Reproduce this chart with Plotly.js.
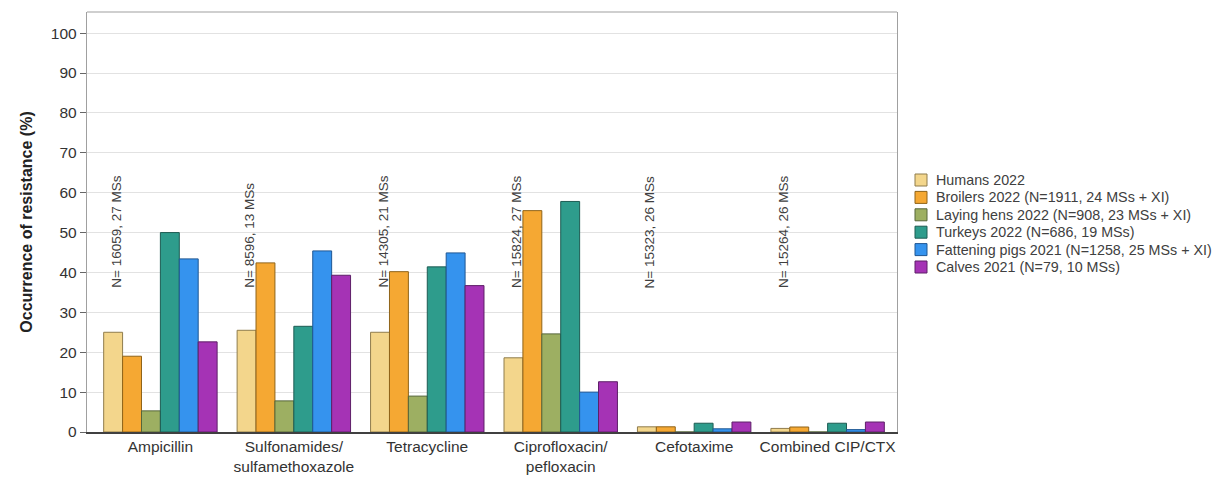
<!DOCTYPE html>
<html>
<head>
<meta charset="utf-8">
<script src="https://cdn.plot.ly/plotly-3.0.1.min.js"></script>
<style>html,body{margin:0;padding:0;background:#fff;}#chart{width:1217px;height:477px;}</style>
</head>
<body>
<div id="chart"></div>
<script>
var categories = ["Ampicillin", "Sulfonamides/<br>sulfamethoxazole", "Tetracycline", "Ciprofloxacin/<br>pefloxacin", "Cefotaxime", "Combined CIP/CTX"];
var sampleNotes = ["N= 16059, 27 MSs", "N= 8596, 13 MSs", "N= 14305, 21 MSs", "N= 15824, 27 MSs", "N= 15323, 26 MSs", "N= 15264, 26 MSs"];
var seriesNames = ["Humans 2022", "Broilers 2022 (N=1911, 24 MSs + XI)", "Laying hens 2022 (N=908, 23 MSs + XI)", "Turkeys 2022 (N=686, 19 MSs)", "Fattening pigs 2021 (N=1258, 25 MSs + XI)", "Calves 2021 (N=79, 10 MSs)"];
var humans   = [25.0, 25.5, 25.0, 18.6, 1.3, 0.9];
var broilers = [19.0, 42.4, 40.2, 55.5, 1.3, 1.25];
var layers   = [5.3, 7.8, 9.0, 24.6, 0, 0];
var turkeys  = [50.0, 26.5, 41.4, 57.8, 2.2, 2.2];
var pigs     = [43.4, 45.4, 44.9, 10.0, 0.8, 0.6];
var calves   = [22.6, 39.3, 36.7, 12.6, 2.5, 2.5];

var seriesValues = [humans, broilers, layers, turkeys, pigs, calves];
var fillColors = ["#F3D68C", "#F5A833", "#9DAF62", "#2E9C8C", "#3593EE", "#A533B5"];
var edgeColors = ["#8f7c4c", "#8f6318", "#56663a", "#1d5c53", "#1f5793", "#5e1f68"];

var FONT = "Liberation Sans, Arial, sans-serif";
var xs = categories.map(function(c, i){ return i; });

var traces = seriesValues.map(function(vals, k){
  return {
    type: "bar",
    x: xs,
    y: vals,
    name: seriesNames[k],
    showlegend: false,
    marker: {color: fillColors[k], line: {color: edgeColors[k], width: 1}},
    hoverinfo: "y"
  };
});

var annotations = sampleNotes.map(function(t, i){
  return {
    x: i - 0.335, y: 35.6, xref: "x", yref: "y",
    text: t, showarrow: false, textangle: -90,
    xanchor: "center", yanchor: "bottom",
    font: {family: FONT, size: 13.5, color: "#404040"}
  };
});

// custom legend (swatch + label) placed to the right of the plot
var plotLeft = 87, plotRight = 897, plotTop = 12, plotBottom = 432;
var pw = plotRight - plotLeft, ph = plotBottom - plotTop;
function px2x(p){ return (p - plotLeft) / pw; }
function py2y(p){ return (plotBottom - p) / ph; }
var shapes = [];
var legTop = 180, legStep = 17.4;
seriesNames.forEach(function(n, k){
  var cy = legTop + k * legStep;
  shapes.push({type: "rect", xref: "paper", yref: "paper",
    x0: px2x(915), x1: px2x(927), y0: py2y(cy + 6), y1: py2y(cy - 6),
    fillcolor: fillColors[k], line: {color: edgeColors[k], width: 1}});
  annotations.push({xref: "paper", yref: "paper", x: px2x(934), y: py2y(cy),
    xanchor: "left", yanchor: "middle", text: n, showarrow: false,
    font: {family: FONT, size: 14.3, color: "#404040"}});
});
// top frame line
shapes.push({type: "line", xref: "paper", yref: "paper", x0: 0, x1: 1, y0: 1, y1: 1,
  line: {color: "#a0a0a0", width: 1.2}});

var layout = {
  width: 1217, height: 477,
  margin: {l: plotLeft, r: 1217 - plotRight, t: plotTop, b: 477 - plotBottom},
  paper_bgcolor: "#ffffff", plot_bgcolor: "#ffffff",
  barmode: "group", bargap: 0.15, bargroupgap: 0,
  showlegend: false,
  font: {family: FONT, color: "#333333"},
  xaxis: {
    tickmode: "array", tickvals: xs, ticktext: categories,
    range: [-0.55, 5.52], showgrid: false, zeroline: false,
    showline: true, linecolor: "#404040", linewidth: 1.5,
    ticks: "", tickfont: {family: FONT, size: 15.5, color: "#333333"}
  },
  yaxis: {
    range: [0, 105.3], tickvals: [0,10,20,30,40,50,60,70,80,90,100],
    showgrid: true, gridcolor: "#e2e2e2", gridwidth: 1,
    zeroline: false, showline: true, linecolor: "#a0a0a0", linewidth: 1.2,
    mirror: true,
    ticks: "outside", ticklen: 6, tickcolor: "#666666",
    tickfont: {family: FONT, size: 15.5, color: "#333333"},
    title: {text: "<b>Occurrence of resistance (%)</b>", standoff: 14,
      font: {family: FONT, size: 16, color: "#222222"}}
  },
  annotations: annotations,
  shapes: shapes
};

Plotly.newPlot("chart", traces, layout, {staticPlot: true, displayModeBar: false});
</script>
</body>
</html>
